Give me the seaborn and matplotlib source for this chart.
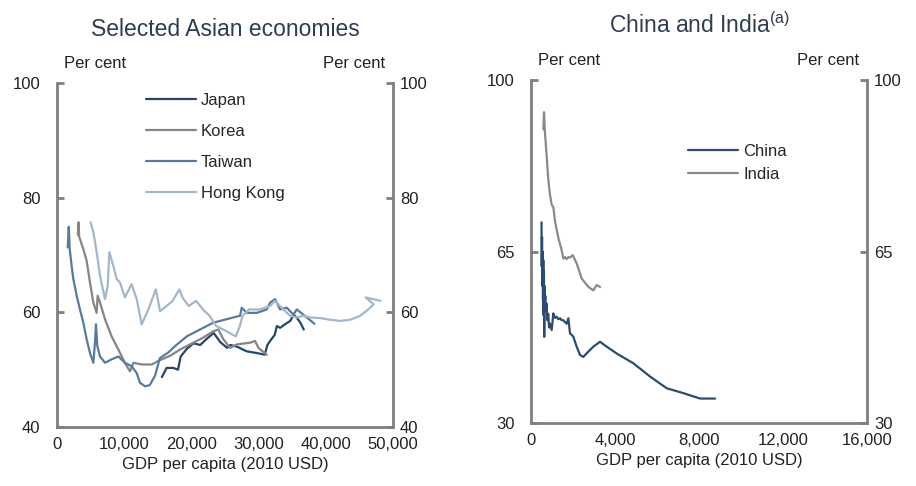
import numpy as np
import pandas as pd
import seaborn as sns
import matplotlib
matplotlib.use("Agg")
from matplotlib import pyplot as plt
from matplotlib.ticker import FuncFormatter

# ---------------- data ----------------
japan_x = [15600, 16300, 17300, 18000, 18400, 19300, 20300, 21300, 22300, 23300,
           24300, 25300, 25800, 26800, 28200, 29700, 30900, 31300, 31700, 32400,
           32700, 33200, 33900, 34700, 35200, 35700, 36200, 36700]
japan_y = [48.7, 50.3, 50.3, 50.0, 52.3, 53.6, 54.6, 54.3, 55.4, 56.4,
           54.8, 53.8, 54.3, 54.0, 53.2, 52.9, 52.6, 54.3, 55.0, 56.1,
           57.6, 57.3, 57.9, 58.5, 59.6, 59.0, 58.2, 57.0]

korea_x = [3100, 3200, 3300, 3920, 4410, 4910, 5410, 5900, 6050, 6400,
           7140, 8130, 9130, 10100, 10860, 11360, 12600, 14090, 15200, 16800,
           18300, 20280, 21770, 23260, 24000, 24750, 25740, 26740, 28720, 29460,
           29960, 31200]
korea_y = [73.5, 75.7, 73.2, 71.0, 69.0, 65.2, 61.7, 59.9, 62.9, 61.7,
           58.8, 55.8, 53.5, 51.2, 49.7, 51.2, 50.9, 50.9, 51.6, 52.4,
           53.5, 54.7, 55.6, 56.7, 57.0, 55.3, 53.8, 54.4, 54.7, 55.0,
           53.8, 52.6]

taiwan_x = [1600, 1750, 1900, 2180, 2430, 2930, 3420, 3920, 4410, 4910,
            5410, 5650, 5800, 6000, 6400, 7140, 8130, 9130, 10100, 11100,
            11860, 12350, 13100, 13800, 14600, 15300, 16560, 17560, 19300, 21280,
            23260, 25250, 27230, 27480, 28220, 29710, 31200, 31700, 32440, 33180,
            34180, 35160, 35670, 36400, 37150, 38300]
taiwan_y = [71.3, 74.9, 71.0, 68.1, 65.8, 62.9, 60.5, 58.2, 55.3, 52.9,
            51.2, 54.7, 57.9, 54.1, 52.3, 51.2, 51.8, 52.3, 51.2, 50.6,
            49.4, 47.7, 47.1, 47.3, 49.0, 52.0, 53.0, 54.1, 55.8, 57.0,
            58.2, 58.8, 59.4, 60.8, 59.9, 59.9, 60.5, 61.7, 62.3, 60.5,
            60.8, 59.6, 60.5, 59.8, 59.1, 58.0]

hk_x = [5000, 5410, 5900, 6400, 7140, 7540, 7790, 8380, 8880, 9370,
        10100, 11100, 11860, 12600, 13590, 14700, 15330, 16300, 17200, 18200,
        18700, 19600, 20700, 21700, 22700, 23700, 25200, 26600, 27200, 27600,
        28600, 30200, 31700, 32440, 33670, 34670, 35670, 36650, 37650, 39130,
        40620, 42100, 43600, 45100, 46400, 47100, 45900, 48100]
hk_y = [75.7, 74.0, 70.5, 66.4, 62.3, 64.6, 70.5, 68.1, 65.8, 65.2,
        62.6, 64.9, 62.3, 57.9, 60.5, 64.0, 60.2, 61.1, 62.0, 64.0,
        62.5, 61.1, 62.0, 60.5, 59.4, 57.6, 56.7, 55.8, 57.6, 59.4,
        60.5, 60.5, 61.1, 62.0, 60.5, 59.4, 59.1, 59.4, 59.1, 59.0,
        58.7, 58.5, 58.7, 59.4, 60.6, 61.4, 62.6, 62.0]

china_x = [500, 510, 525, 540, 555, 570, 585, 600, 615, 630,
           645, 660, 680, 700, 740, 780, 820, 860, 905, 984,
           1063, 1140, 1222, 1300, 1381, 1460, 1539, 1620, 1698, 1777,
           1857, 1940, 2016, 2174, 2333, 2491, 2600, 2730, 2968, 3285,
           3602, 4079, 4872, 5666, 6459, 7253, 8046, 8522, 8760]
china_y = [71.0, 62.0, 68.0, 58.0, 65.0, 55.0, 63.3, 52.0, 61.0, 47.6,
           58.0, 54.0, 56.0, 53.0, 54.4, 51.0, 52.3, 49.5, 50.3, 49.0,
           52.4, 51.5, 51.7, 51.2, 51.4, 51.0, 51.0, 50.6, 50.3, 51.4,
           48.3, 48.0, 47.6, 45.6, 43.9, 43.5, 44.0, 44.6, 45.6, 46.6,
           45.6, 44.2, 42.2, 39.5, 37.1, 36.1, 35.0, 35.0, 35.0]

india_x = [587, 620, 667, 746, 826, 905, 984, 1063, 1143, 1302,
           1460, 1540, 1619, 1700, 1778, 1860, 1984, 2175, 2413, 2730,
           2968, 3127, 3286]
india_y = [90.0, 93.5, 89.1, 84.5, 79.6, 76.6, 74.6, 74.1, 71.2, 67.8,
           65.3, 63.6, 63.9, 63.5, 63.9, 63.8, 64.3, 62.6, 59.5, 57.8,
           57.1, 58.2, 57.8]

left_names = ["Japan", "Korea", "Taiwan", "Hong Kong"]
left_colors = ["#24466c", "#858585", "#587a9e", "#a2b7cc"]
right_names = ["China", "India"]
right_colors = ["#294c72", "#8a8a8a"]

frames = []
for name, xs, ys in [("Japan", japan_x, japan_y), ("Korea", korea_x, korea_y),
                     ("Taiwan", taiwan_x, taiwan_y), ("Hong Kong", hk_x, hk_y)]:
    frames.append(pd.DataFrame({"gdp": xs, "share": ys, "economy": name}))
df_left = pd.concat(frames, ignore_index=True)

df_right = pd.concat([
    pd.DataFrame({"gdp": china_x, "share": china_y, "economy": "China"}),
    pd.DataFrame({"gdp": india_x, "share": india_y, "economy": "India"}),
], ignore_index=True)

# ---------------- style ----------------
sns.set_style("white")
plt.rcParams["font.family"] = ["Liberation Sans", "DejaVu Sans"]
plt.rcParams["mathtext.fontset"] = "custom"
plt.rcParams["mathtext.rm"] = "Liberation Sans"

spine_col = "#7f7f7f"
title_col = "#2f3d52"

fig = plt.figure(figsize=(9.16, 4.86), dpi=100)
axL = fig.add_axes([0.0622, 0.1214, 0.367, 0.708])
axR = fig.add_axes([0.5797, 0.1296, 0.367, 0.705])

comma = FuncFormatter(lambda v, p: f"{int(v):,}")


def style_axis(ax, xlim, xticks, ylim, yticks):
    ax.set_xlim(*xlim)
    ax.set_ylim(*ylim)
    ax.set_xticks(xticks)
    ax.set_yticks(yticks)
    ax.xaxis.set_major_formatter(comma)
    for s in ["left", "right", "bottom"]:
        ax.spines[s].set_visible(True)
        ax.spines[s].set_color(spine_col)
        ax.spines[s].set_linewidth(2)
    ax.spines["top"].set_visible(False)
    ax.tick_params(axis="both", direction="in", length=5, width=2,
                   color=spine_col, labelsize=12, labelcolor="#222222")
    ax.tick_params(axis="x", pad=7)
    ax.tick_params(axis="y", left=True, pad=12)
    ax.set_xlabel("GDP per capita (2010 USD)", fontsize=12, color="#222222", labelpad=4)
    ax.set_ylabel("")
    tw = ax.twinx()
    tw.set_ylim(*ylim)
    tw.set_yticks(yticks)
    for s in tw.spines.values():
        s.set_visible(False)
    tw.tick_params(axis="y", direction="in", length=5, width=2, color=spine_col,
                   labelsize=12, labelcolor="#222222", pad=5)
    ax.text(0.02, 1.035, "Per cent", transform=ax.transAxes, ha="left", va="bottom",
            fontsize=12, color="#222222")
    ax.text(0.975, 1.035, "Per cent", transform=ax.transAxes, ha="right", va="bottom",
            fontsize=12, color="#222222")


sns.lineplot(data=df_left, x="gdp", y="share", hue="economy", hue_order=left_names,
             palette=left_colors, sort=False, estimator=None, linewidth=1.6, ax=axL)
sns.lineplot(data=df_right, x="gdp", y="share", hue="economy", hue_order=right_names,
             palette=right_colors, sort=False, estimator=None, linewidth=1.6, ax=axR)

style_axis(axL, (0, 50000), range(0, 50001, 10000), (40, 100), [40, 60, 80, 100])
style_axis(axR, (0, 16000), range(0, 16001, 4000), (30, 100), [30, 65, 100])

axL.legend(loc="upper left", bbox_to_anchor=(0.265, 0.97), frameon=False, fontsize=12,
           handlelength=3.0, handletextpad=0.3, labelspacing=0.95, borderpad=0,
           borderaxespad=0)
axR.legend(loc="upper left", bbox_to_anchor=(0.468, 0.815), frameon=False, fontsize=12,
           handlelength=3.0, handletextpad=0.3, labelspacing=0.5, borderpad=0,
           borderaxespad=0)

axL.set_title("Selected Asian economies", fontsize=16.5, color=title_col, pad=34)
axR.set_title(r"China and India$^{\rm (a)}$", fontsize=16.5, color=title_col, pad=34)

plt.savefig("out.png", dpi=100)
